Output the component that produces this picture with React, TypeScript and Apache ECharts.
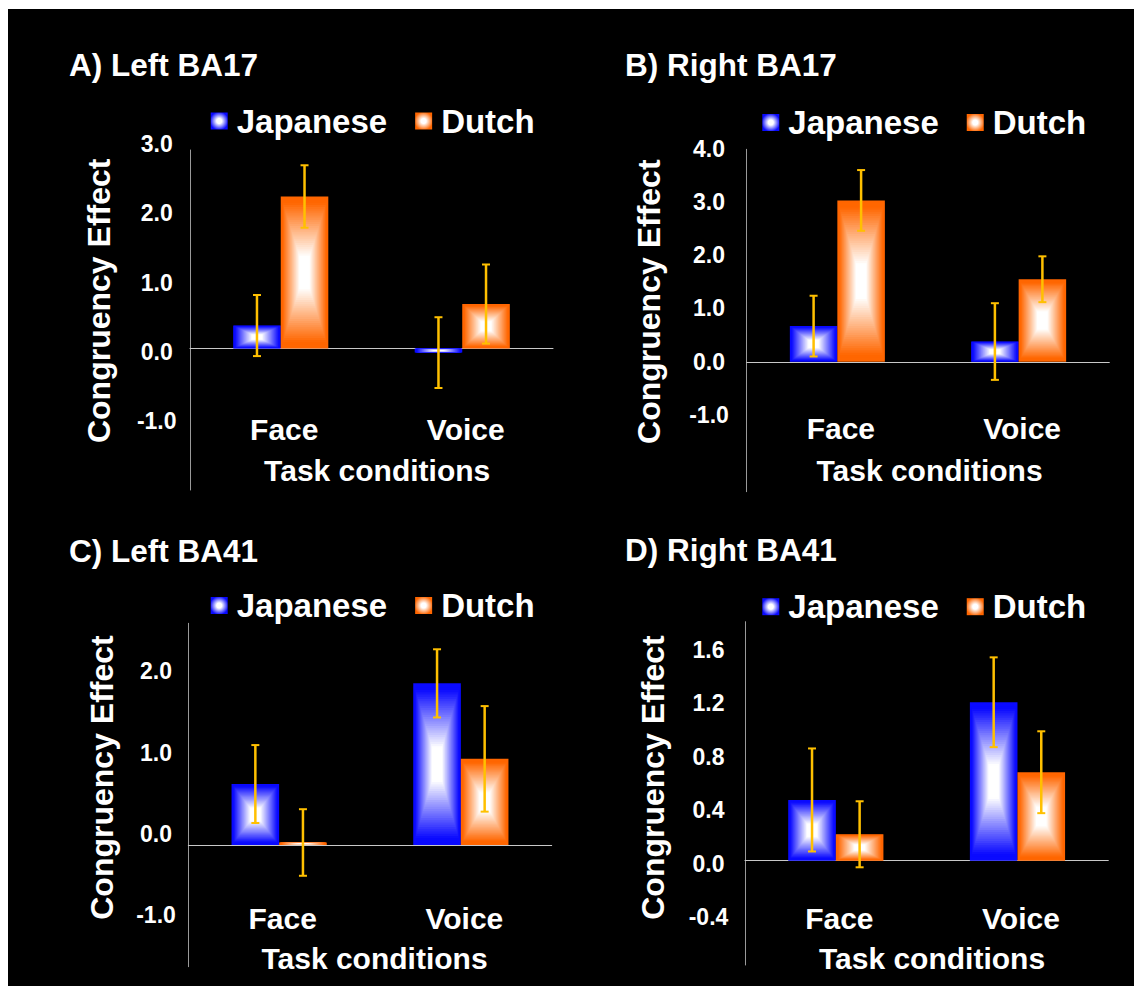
import React, { useEffect, useRef } from 'react';
import * as echarts from 'echarts';

// ---------- data ----------
const categories = ['Face', 'Voice'];
const groups = ['Japanese', 'Dutch'];
const panelTitles = ['A) Left BA17', 'B) Right BA17', 'C) Left BA41', 'D) Right BA41'];
const yAxisTitle = 'Congruency Effect';
const xAxisTitle = 'Task conditions';

// A) Left BA17
const japaneseA = [0.33, -0.06];
const japaneseErrA = [0.44, 0.51];
const dutchA = [2.19, 0.64];
const dutchErrA = [0.45, 0.57];
const ticksA = [3.0, 2.0, 1.0, 0.0, -1.0];
const axisRangeA = [-2.04, 2.86];

// B) Right BA17
const japaneseB = [0.67, 0.38];
const japaneseErrB = [0.57, 0.72];
const dutchB = [3.03, 1.55];
const dutchErrB = [0.57, 0.43];
const ticksB = [4.0, 3.0, 2.0, 1.0, 0.0, -1.0];
const axisRangeB = [-2.44, 3.99];

// C) Left BA41
const japaneseC = [0.75, 1.99];
const japaneseErrC = [0.48, 0.42];
const dutchC = [0.03, 1.06];
const dutchErrC = [0.41, 0.65];
const ticksC = [2.0, 1.0, 0.0, -1.0];
const axisRangeC = [-1.5, 2.73];

// D) Right BA41
const japaneseD = [0.46, 1.2];
const japaneseErrD = [0.39, 0.34];
const dutchD = [0.2, 0.67];
const dutchErrD = [0.25, 0.31];
const ticksD = [1.6, 1.2, 0.8, 0.4, 0.0, -0.4];
const axisRangeD = [-0.79, 1.81];

const panelData = [
  { jp: japaneseA, jpErr: japaneseErrA, nl: dutchA, nlErr: dutchErrA, ticks: ticksA, range: axisRangeA },
  { jp: japaneseB, jpErr: japaneseErrB, nl: dutchB, nlErr: dutchErrB, ticks: ticksB, range: axisRangeB },
  { jp: japaneseC, jpErr: japaneseErrC, nl: dutchC, nlErr: dutchErrC, ticks: ticksC, range: axisRangeC },
  { jp: japaneseD, jpErr: japaneseErrD, nl: dutchD, nlErr: dutchErrD, ticks: ticksD, range: axisRangeD },
];

// ---------- layout (page coordinates) ----------
const OX = 8;
const OY = 9;
const layout = [
  { ax: 190, top: 150, right: 553, bottom: 490, lTop: 143.8, lBottom: 421.4, lCx: 156.7, xlabY: 429,
    title: [69, 64.7], yT: [98.5, 300.8], xT: [377.2, 470.3], leg: [210.7, 121] },
  { ax: 746.7, top: 149.3, right: 1109.3, bottom: 491.7, lTop: 148.5, lBottom: 415, lCx: 709, xlabY: 428.7,
    title: [625, 64.7], yT: [649.2, 301.7], xT: [929.5, 470.3], leg: [762.3, 122.5] },
  { ax: 188.3, top: 623.3, right: 551.7, bottom: 966.7, lTop: 671.4, lBottom: 915, lCx: 156, xlabY: 918.3,
    title: [69, 550.8], yT: [101.7, 777.5], xT: [374.5, 958.8], leg: [210.7, 605.5] },
  { ax: 745, top: 621.7, right: 1108.3, bottom: 965, lTop: 649.8, lBottom: 917.4, lCx: 708.5, xlabY: 918.3,
    title: [625, 549.7], yT: [652.8, 777.5], xT: [932, 958.8], leg: [762.3, 606.7] },
];

const BLUE = [10, 10, 255];
const ORANGE = [255, 102, 0];
const ERR_COLOR = '#FFC000';
const FONT = '"Liberation Sans", Arial, Helvetica, sans-serif';

function mixColor(edge: number[], t: number) {
  let s = (t - 0.22) / (0.93 - 0.22);
  s = Math.max(0, Math.min(1, s));
  const r = Math.round(255 * (1 - s) + edge[0] * s);
  const g = Math.round(255 * (1 - s) + edge[1] * s);
  const b = Math.round(255 * (1 - s) + edge[2] * s);
  return `rgb(${r},${g},${b})`;
}

function makeRender(side: number, edge: number[]) {
  return (params: any, api: any) => {
    const idx = api.value(0);
    const mean = api.value(1);
    const err = api.value(2);
    const base = api.coord([idx, 0]);
    const topPt = api.coord([idx, mean]);
    const band = api.size([1, 0])[0];
    const bw = band * 0.262;
    const x0 = base[0] + (side === 0 ? -bw : 0);
    const y0 = Math.min(base[1], topPt[1]);
    const h = Math.abs(base[1] - topPt[1]);
    const children: any[] = [];
    const N = 36;
    for (let i = 0; i < N; i++) {
      const t = 1 - i / N;
      const w = bw * t;
      const hh = h * t;
      children.push({
        type: 'rect',
        shape: { x: x0 + (bw - w) / 2, y: y0 + (h - hh) / 2, width: w, height: hh },
        style: { fill: mixColor(edge, t) },
      });
    }
    const cx = x0 + bw / 2;
    const hi = api.coord([idx, mean + err])[1];
    const lo = api.coord([idx, mean - err])[1];
    const cap = 4;
    const es = { stroke: ERR_COLOR, lineWidth: 2.5 };
    children.push({ type: 'line', shape: { x1: cx, y1: hi, x2: cx, y2: lo }, style: es });
    children.push({ type: 'line', shape: { x1: cx - cap, y1: hi, x2: cx + cap, y2: hi }, style: { ...es, lineWidth: 2 } });
    children.push({ type: 'line', shape: { x1: cx - cap, y1: lo, x2: cx + cap, y2: lo }, style: { ...es, lineWidth: 2 } });
    return { type: 'group', children };
  };
}

const blueGrad = {
  type: 'radial', x: 0.5, y: 0.5, r: 0.6,
  colorStops: [{ offset: 0, color: '#ffffff' }, { offset: 0.25, color: '#ffffff' }, { offset: 0.9, color: 'rgb(10,10,255)' }, { offset: 1, color: 'rgb(10,10,255)' }],
};
const orangeGrad = {
  type: 'radial', x: 0.5, y: 0.5, r: 0.6,
  colorStops: [{ offset: 0, color: '#ffffff' }, { offset: 0.25, color: '#ffffff' }, { offset: 0.9, color: 'rgb(255,102,0)' }, { offset: 1, color: 'rgb(255,102,0)' }],
};

function buildOption() {
  const grid: any[] = [];
  const xAxis: any[] = [];
  const yAxis: any[] = [];
  const series: any[] = [];
  const legend: any[] = [];
  const graphic: any[] = [];

  // bar grids 0..3
  layout.forEach((L, i) => {
    const d = panelData[i];
    grid.push({
      left: L.ax - OX, top: L.top - OY, width: L.right - L.ax, height: L.bottom - L.top,
      containLabel: false, outerBoundsMode: 'none',
    });
    xAxis.push({
      gridIndex: i, type: 'category', data: categories,
      axisLine: { show: true, onZero: true, lineStyle: { color: '#c8c8c8', width: 1 } },
      axisTick: { show: false },
      splitLine: { show: false },
      axisLabel: {
        show: true, margin: L.xlabY - L.bottom, verticalAlign: 'middle', color: '#ffffff',
        fontFamily: FONT, fontWeight: 'bold', fontSize: 30, padding: [0, 0, 0, 7],
      },
    });
    yAxis.push({
      gridIndex: i, type: 'value', min: d.range[0], max: d.range[1],
      axisLine: { show: true, lineStyle: { color: '#9a9a9a', width: 1 } },
      axisTick: { show: false }, axisLabel: { show: false }, splitLine: { show: false },
    });
    series.push({
      type: 'custom', name: groups[0], xAxisIndex: i, yAxisIndex: i,
      renderItem: makeRender(0, BLUE),
      itemStyle: { color: blueGrad },
      encode: { x: 0, y: 1 },
      data: categories.map((_, k) => [k, d.jp[k], d.jpErr[k]]),
    });
    series.push({
      type: 'custom', name: groups[1], xAxisIndex: i, yAxisIndex: i,
      renderItem: makeRender(1, ORANGE),
      itemStyle: { color: orangeGrad },
      encode: { x: 0, y: 1 },
      data: categories.map((_, k) => [k, d.nl[k], d.nlErr[k]]),
    });
  });

  // tick-label grids 4..7
  layout.forEach((L, i) => {
    const d = panelData[i];
    const tMax = Math.max(...d.ticks);
    const tMin = Math.min(...d.ticks);
    const step = Math.abs(d.ticks[0] - d.ticks[1]);
    const gi = 4 + i;
    grid.push({
      left: L.ax - OX, top: L.lTop - OY, width: L.right - L.ax, height: L.lBottom - L.lTop,
      containLabel: false, outerBoundsMode: 'none',
    });
    xAxis.push({ gridIndex: gi, type: 'value', min: 0, max: 1, show: false });
    yAxis.push({
      gridIndex: gi, type: 'value', min: tMin, max: tMax, interval: step,
      axisLine: { show: false }, axisTick: { show: false }, splitLine: { show: false },
      axisLabel: {
        show: true, align: 'center', margin: L.ax - L.lCx, color: '#ffffff',
        fontFamily: FONT, fontWeight: 'bold', fontSize: 23,
        formatter: (v: number) => v.toFixed(1),
      },
    });

    legend.push({
      left: L.leg[0] - OX, top: L.leg[1] - OY - 17, orient: 'horizontal', padding: 0,
      itemWidth: 17, itemHeight: 17, itemGap: 28, icon: 'rect', selectedMode: false,
      data: groups,
      textStyle: {
        color: '#ffffff', fontSize: 33, fontWeight: 'bold', fontFamily: FONT,
        lineHeight: 34, padding: [0, 0, 0, 4],
      },
    });

    graphic.push({
      type: 'text', x: L.title[0] - OX, y: L.title[1] - OY,
      style: { text: panelTitles[i], fill: '#ffffff', fontSize: 31.5, fontWeight: 'bold', fontFamily: FONT, align: 'left', verticalAlign: 'middle' },
    });
    graphic.push({
      type: 'text', x: L.yT[0] - OX, y: L.yT[1] - OY, rotation: Math.PI / 2,
      style: { text: yAxisTitle, fill: '#ffffff', fontSize: 32, fontWeight: 'bold', fontFamily: FONT, align: 'center', verticalAlign: 'middle' },
    });
    graphic.push({
      type: 'text', x: L.xT[0] - OX, y: L.xT[1] - OY,
      style: { text: xAxisTitle, fill: '#ffffff', fontSize: 30, fontWeight: 'bold', fontFamily: FONT, align: 'center', verticalAlign: 'middle' },
    });
  });

  return {
    animation: false,
    backgroundColor: '#000000',
    grid, xAxis, yAxis, legend, graphic, series,
  };
}

export default function App() {
  const ref = useRef<HTMLDivElement>(null);
  useEffect(() => {
    if (!ref.current) return;
    const chart = echarts.init(ref.current, null, { renderer: 'svg' });
    chart.setOption(buildOption() as any);
    return () => chart.dispose();
  }, []);
  return (
    <div
      ref={ref}
      style={{ position: 'fixed', left: OX, top: OY, width: 1126, height: 977, background: '#000' }}
    />
  );
}
